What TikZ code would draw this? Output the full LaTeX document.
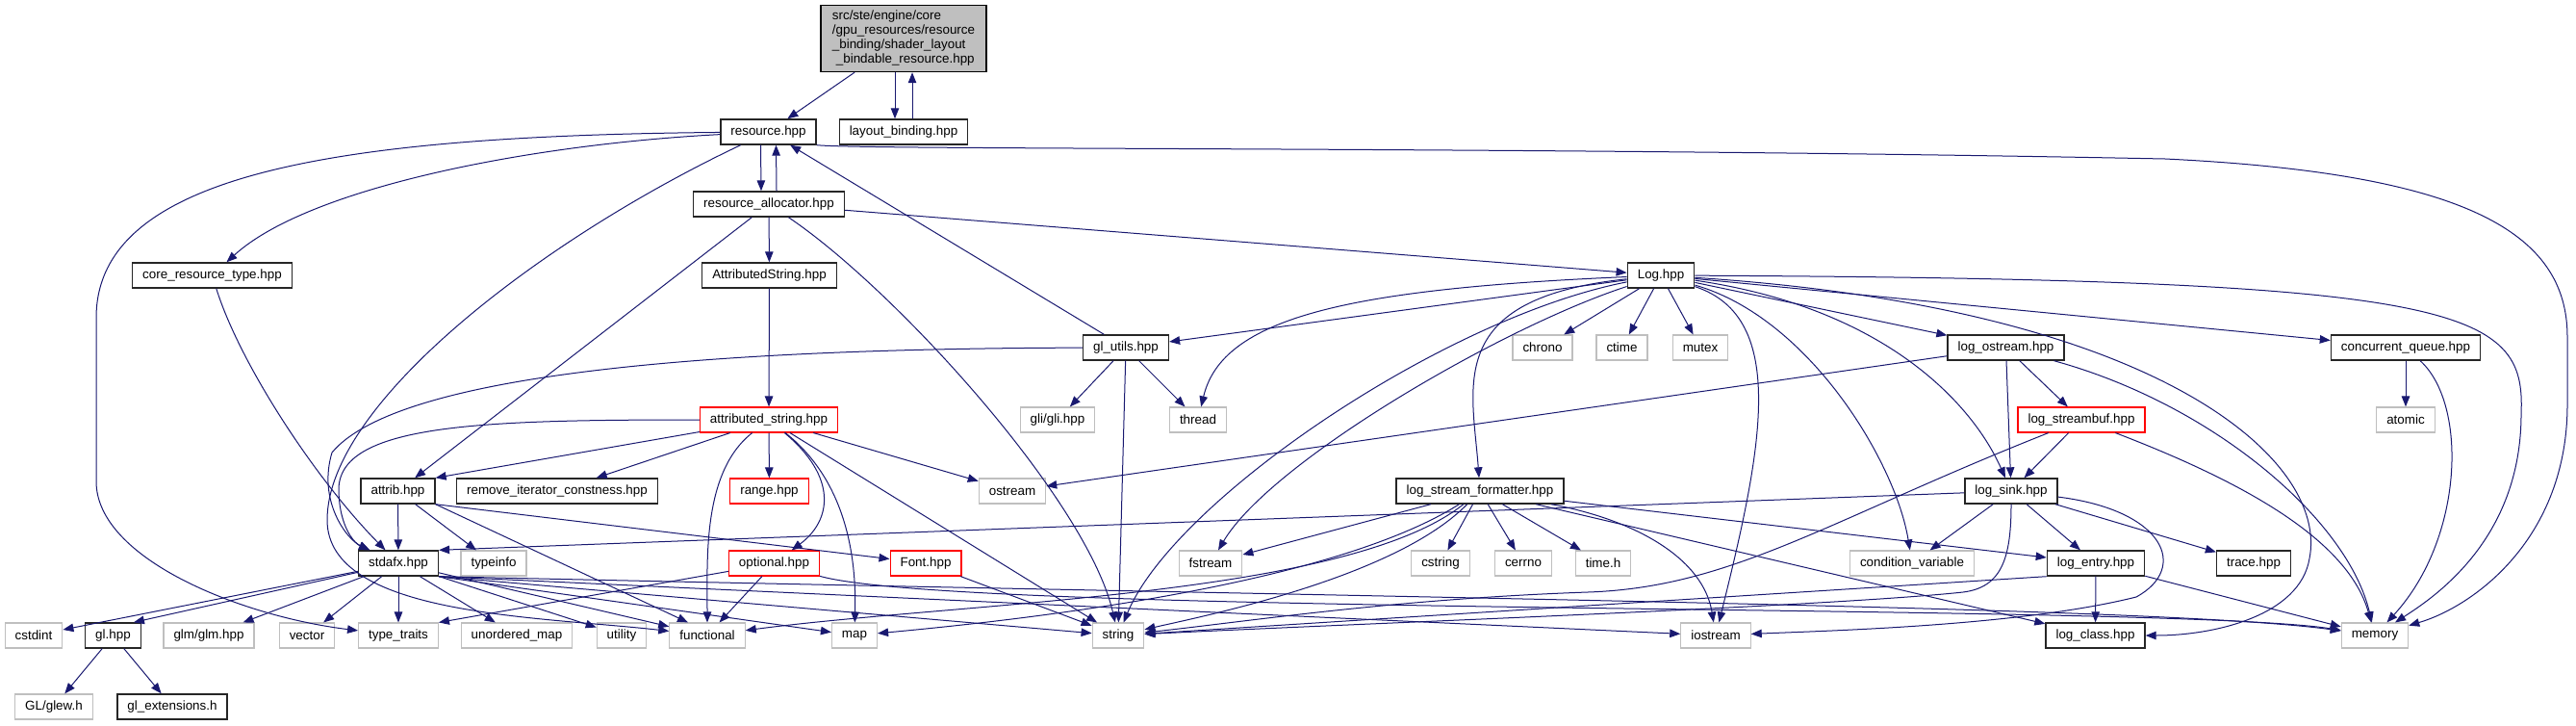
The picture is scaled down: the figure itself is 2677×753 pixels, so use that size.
\documentclass[tikz,border=0pt]{standalone}
\usepackage{fontspec}
\setmainfont{Liberation Sans}
\usepackage{tikz}
\usetikzlibrary{arrows.meta}
\definecolor{edgeblue}{HTML}{191970}
\definecolor{grey75}{HTML}{BFBFBF}
\tikzset{
    filebox/.style={rectangle, draw, fill=white, minimum height=26pt, inner xsep=10.5pt, inner ysep=0pt, font=\fontsize{13.4}{15}\selectfont},
    hdr/.style={filebox, draw=black!85, line width=1.4pt},
    sys/.style={filebox, draw=grey75, line width=1.1pt},
    trunc/.style={filebox, draw=red, line width=1.1pt},
    root/.style={filebox, draw=black, line width=1.4pt, fill=grey75, align=left, minimum width=172pt, minimum height=69pt},
    incl/.style={draw=edgeblue, line width=1pt, -{Stealth[length=11pt, width=8.5pt, inset=0pt]}}
}
\begin{document}
\begin{tikzpicture}[x=1pt, y=-1pt]
    \useasboundingbox (0,0) rectangle (2677,753);

    % Nodes
    \node[root] (shl) at (939,40) {src/ste/engine/core\\/gpu\_resources/resource\\\_binding/shader\_layout\\\hspace*{4pt}\_bindable\_resource.hpp};
    \node[hdr] (res) at (798.5,137) {resource.hpp};
    \node[hdr] (lb) at (939,137) {layout\_binding.hpp};
    \node[hdr] (ralloc) at (799,212) {resource\_allocator.hpp};
    \node[hdr] (crt) at (220.5,286) {core\_resource\_type.hpp};
    \node[hdr] (astr) at (799.5,286) {AttributedString.hpp};
    \node[hdr] (log) at (1726,286) {Log.hpp};
    \node[hdr] (glu) at (1170,361) {gl\_utils.hpp};
    \node[sys] (chrono) at (1603,361) {chrono};
    \node[sys] (ctime) at (1685.5,361) {ctime};
    \node[sys] (mutex) at (1767,361) {mutex};
    \node[hdr] (lostr) at (2084.5,361) {log\_ostream.hpp};
    \node[hdr] (cq) at (2500,361) {concurrent\_queue.hpp};
    \node[trunc] (attrstr) at (799,436) {attributed\_string.hpp};
    \node[sys] (gli) at (1099,436) {gli/gli.hpp};
    \node[sys] (thread) at (1245,436) {thread};
    \node[trunc] (lsbuf) at (2163,436) {log\_streambuf.hpp};
    \node[sys] (atomic) at (2500,436) {atomic};
    \node[hdr] (attrib) at (413.5,510) {attrib.hpp};
    \node[hdr] (rmit) at (579,510) {remove\_iterator\_constness.hpp};
    \node[trunc] (range) at (799.5,510) {range.hpp};
    \node[sys] (ostream) at (1052,510) {ostream};
    \node[hdr] (lsf) at (1538,510) {log\_stream\_formatter.hpp};
    \node[hdr] (lsink) at (2090,510) {log\_sink.hpp};
    \node[hdr] (stdafx) at (414,585) {stdafx.hpp};
    \node[sys] (typeinfo) at (513,585) {typeinfo};
    \node[trunc] (optional) at (804.5,585) {optional.hpp};
    \node[trunc] (font) at (962,585) {Font.hpp};
    \node[sys] (fstream) at (1258,585) {fstream};
    \node[sys] (cstring) at (1497,585) {cstring};
    \node[sys] (cerrno) at (1583,585) {cerrno};
    \node[sys] (timeh) at (1666,585) {time.h};
    \node[sys] (condvar) at (1987,585) {condition\_variable};
    \node[hdr] (lentry) at (2178,585) {log\_entry.hpp};
    \node[hdr] (trace) at (2342,585) {trace.hpp};
    \node[sys] (cstdint) at (35,660) {cstdint};
    \node[hdr] (glhpp) at (117.5,660) {gl.hpp};
    \node[sys] (glm) at (217,660) {glm/glm.hpp};
    \node[sys] (vector) at (319,660) {vector};
    \node[sys] (ttraits) at (414,660) {type\_traits};
    \node[sys] (umap) at (537,660) {unordered\_map};
    \node[sys] (utility) at (646,660) {utility};
    \node[sys] (functional) at (735,660) {functional};
    \node[sys] (map) at (888,660) {map};
    \node[sys] (string) at (1162,660) {string};
    \node[sys] (iostream) at (1783,660) {iostream};
    \node[hdr] (lclass) at (2177.5,660) {log\_class.hpp};
    \node[sys] (memory) at (2468,660) {memory};
    \node[sys] (glew) at (56,734) {GL/glew.h};
    \node[hdr] (glext) at (179,734) {gl\_extensions.h};

    % edges
    \draw[incl] (shl) -- (res);
    \draw[incl] ([xshift=-9pt]shl.south) -- ([xshift=-9pt]lb.north);
    \draw[incl] ([xshift=9pt]lb.north) -- ([xshift=9pt]shl.south);
    \draw[incl] ([xshift=-8pt]res.south) -- ([xshift=-8pt]ralloc.north);
    \draw[incl] ([xshift=8pt]ralloc.north) -- ([xshift=8pt]res.south);
    \draw[incl] (res) .. controls (550,150) and (320,195) .. (crt);
    \draw[incl] (res) .. controls (350,141) and (100,180) .. (100,330) -- (100,500) .. controls (100,580) and (250,640) .. (ttraits);
    \draw[incl] (res) .. controls (560,250) and (340,420) .. (340,540) .. controls (340,640) and (560,640) .. (functional);
    \draw[incl] (res.south east) .. controls (900,156) and (1600,152) .. (2250,165) .. controls (2560,180) and (2668,240) .. (2668,350) -- (2668,420) .. controls (2668,560) and (2570,630) .. (memory);

    \draw[incl] (ralloc) -- (astr);
    \draw[incl] (ralloc) -- (attrib);
    \draw[incl] (ralloc) .. controls (930,300) and (1130,520) .. (string);
    \draw[incl] (ralloc) -- (log);
    \draw[incl] (crt) .. controls (250,380) and (330,500) .. (stdafx);
    \draw[incl] (astr) -- (attrstr);

    % attributed_string
    \draw[incl] (attrstr) -- (attrib.north east);
    \draw[incl] (attrstr) -- (rmit);
    \draw[incl] (attrstr) -- (range);
    \draw[incl] (attrstr) .. controls (870,495) and (865,540) .. (optional);
    \draw[incl] (attrstr) .. controls (730,490) and (735,580) .. (functional);
    \draw[incl] (attrstr) .. controls (880,500) and (890,580) .. (map);
    \draw[incl] (attrstr) -- (string);
    \draw[incl] (attrstr) -- (ostream);
    \draw[incl] (attrstr) .. controls (500,436) and (350,440) .. (352,510) .. controls (353,550) and (370,565) .. (stdafx);

    \draw[incl] (attrib) -- (stdafx);
    \draw[incl] (attrib) -- (typeinfo);
    \draw[incl] (attrib.south east) -- ([xshift=-20pt]functional.north);
    \draw[incl] (attrib.south east) -- (font);

    % stdafx
    \draw[incl] (stdafx) -- (cstdint);
    \draw[incl] (stdafx) -- ([xshift=-8pt]glhpp.north east);
    \draw[incl] (stdafx) -- (glm);
    \draw[incl] (stdafx) -- (vector);
    \draw[incl] (stdafx) -- (ttraits);
    \draw[incl] (stdafx) -- (umap);
    \draw[incl] (stdafx) -- (utility);
    \draw[incl] (stdafx) -- (functional);
    \draw[incl] (stdafx.south east) -- (map);
    \draw[incl] (stdafx.south east) -- (string);
    \draw[incl] (stdafx.south east) -- (iostream);
    \draw[incl] (stdafx.south east) .. controls (1500,622) and (2250,630) .. (memory);
    \draw[incl] (glhpp) -- (glew);
    \draw[incl] (glhpp) -- (glext);

    \draw[incl] (optional) -- (ttraits.north east);
    \draw[incl] (optional) -- (functional);
    \draw[incl] (optional) .. controls (1000,640) and (2250,626) .. (memory);
    \draw[incl] (font) -- (string);

    % gl_utils
    \draw[incl] (glu) -- (res);
    \draw[incl] (glu) .. controls (800,362) and (420,380) .. (345,470) .. controls (330,520) and (360,560) .. (stdafx);
    \draw[incl] (glu) -- (gli);
    \draw[incl] (glu) -- (string);
    \draw[incl] (glu) -- (thread);

    % Log
    \draw[incl] (log) -- (glu);
    \draw[incl] (log) -- (chrono);
    \draw[incl] (log) -- (ctime);
    \draw[incl] (log) -- (mutex);
    \draw[incl] (log) -- (lostr);
    \draw[incl] (log) -- (cq);
    \draw[incl] (log) .. controls (1400,300) and (1270,330) .. (thread);
    \draw[incl] (log) .. controls (1500,330) and (1220,520) .. (string);
    \draw[incl] (log) .. controls (1560,340) and (1320,480) .. (fstream);
    \draw[incl] (log) .. controls (1500,310) and (1530,400) .. (lsf);
    \draw[incl] (log) .. controls (1880,330) and (1970,480) .. (condvar);
    \draw[incl] (log) .. controls (1960,320) and (2050,420) .. (lsink);
    \draw[incl] (log) .. controls (1860,330) and (1830,470) .. (iostream);
    \draw[incl] (log) .. controls (2250,320) and (2420,480) .. (2400,580) .. controls (2390,640) and (2300,660) .. (lclass);
    \draw[incl] (log) .. controls (2560,290) and (2625,320) .. (2620,430) .. controls (2620,560) and (2530,620) .. (memory);

    \draw[incl] (lostr) -- (lsink);
    \draw[incl] (lostr) -- (lsbuf);
    \draw[incl] (lostr) -- (ostream);
    \draw[incl] (lostr) .. controls (2300,420) and (2440,540) .. (memory);
    \draw[incl] (cq) -- (atomic);
    \draw[incl] (cq) .. controls (2565,420) and (2560,560) .. (memory);

    \draw[incl] (lsbuf) -- (lsink);
    \draw[incl] (lsbuf) .. controls (2330,500) and (2440,560) .. (memory);
    \draw[incl] (lsbuf) .. controls (1900,540) and (1800,610) .. (1650,615) .. controls (1450,622) and (1300,645) .. (string);

    % log_sink
    \draw[incl] (lsink) -- (stdafx.north east);
    \draw[incl] (lsink) -- (condvar);
    \draw[incl] (lsink) -- (lentry);
    \draw[incl] (lsink) -- (trace);
    \draw[incl] (lsink) .. controls (2250,530) and (2275,590) .. (2220,620) .. controls (2100,650) and (1900,655) .. (iostream);
    \draw[incl] (lsink) .. controls (2090,580) and (2080,610) .. (2040,615) .. controls (1900,630) and (1400,648) .. (string);

    % log_stream_formatter
    \draw[incl] (lsf) -- (fstream);
    \draw[incl] (lsf) -- (cstring);
    \draw[incl] (lsf) -- (cerrno);
    \draw[incl] (lsf) -- (timeh);
    \draw[incl] (lsf) .. controls (1380,610) and (1050,645) .. (map);
    \draw[incl] (lsf) .. controls (1400,620) and (1000,625) .. (functional);
    \draw[incl] (lsf) .. controls (1450,600) and (1250,640) .. (string);
    \draw[incl] (lsf) .. controls (1700,540) and (1770,580) .. (iostream);
    \draw[incl] (lsf) -- (lclass);
    \draw[incl] (lsf) -- (lentry);

    \draw[incl] (lentry) -- (lclass);
    \draw[incl] (lentry) -- (memory);
    \draw[incl] (lentry.south west) -- (string);
\end{tikzpicture}
\end{document}
